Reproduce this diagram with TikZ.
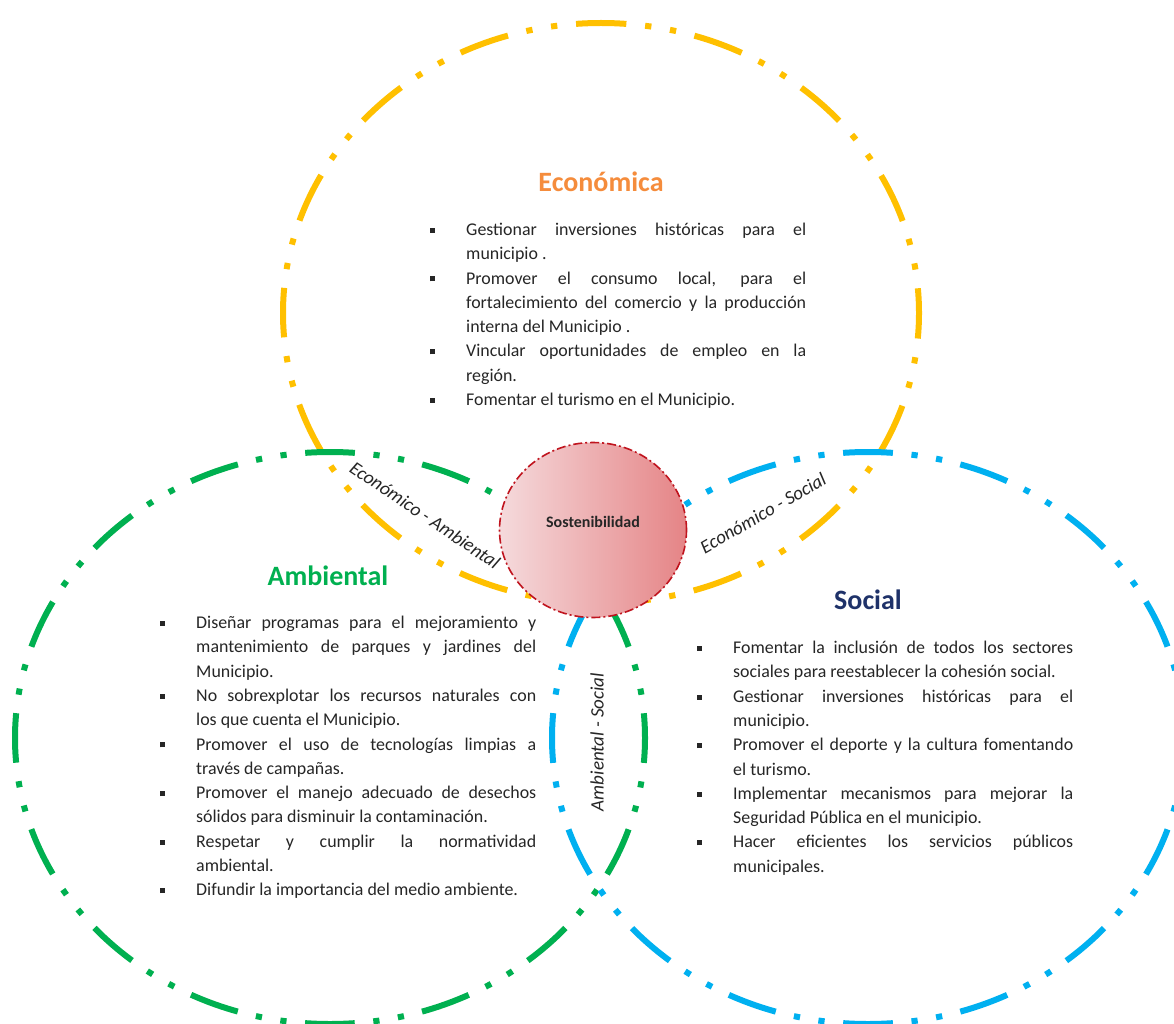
\documentclass[tikz,border=0pt]{standalone}
\usepackage{fontspec}
\setmainfont{Carlito}
\usetikzlibrary{shapes.geometric}
\definecolor{cyel}{RGB}{255,192,0}
\definecolor{cgrn}{RGB}{0,176,80}
\definecolor{cblu}{RGB}{0,176,240}
\definecolor{corg}{RGB}{245,140,60}
\definecolor{cnavy}{RGB}{31,50,105}
\definecolor{ctxt}{RGB}{38,38,38}
\definecolor{cred}{RGB}{192,20,30}
\definecolor{cpinkL}{RGB}{245,218,220}
\definecolor{cpinkR}{RGB}{229,132,134}
\newcommand\itm{\par\noindent\hangindent=36pt\hangafter=1\makebox[36pt][l]{\raisebox{2.6pt}{\rule{5pt}{5pt}}}\strut}
\newcommand\bodyset{\fontsize{17.9}{24.3}\selectfont\rightskip=0pt\leftskip=0pt\parfillskip=0pt plus 1fil\spaceskip=\fontdimen2\font plus 3\fontdimen2\font minus 0.45\fontdimen2\font\xspaceskip=\spaceskip\tolerance=10000\hyphenpenalty=10000\exhyphenpenalty=10000\parindent=0pt}
\tikzset{
  listbox/.style={anchor=north west, inner sep=0pt, text width=376pt, align=justify, text=ctxt, font=\fontsize{17.9}{24.3}\selectfont},
  ttl/.style={anchor=base, inner sep=0pt, font=\fontsize{28}{34}\selectfont\bfseries},
  sidelbl/.style={inner sep=0pt, text=ctxt, font=\fontsize{19}{23}\selectfont\itshape},
  yelline/.style={draw=cyel, line width=6pt, dash pattern=on 50.32pt off 18.87pt on 6.29pt off 18.87pt on 6.29pt off 18.87pt, dash phase=25.16pt},
  grnline/.style={draw=cgrn, line width=6pt, dash pattern=on 49.72pt off 18.65pt on 6.215pt off 18.65pt on 6.215pt off 18.65pt, dash phase=24.86pt},
  bluline/.style={draw=cblu, line width=6pt, dash pattern=on 49.8pt off 18.68pt on 6.225pt off 18.68pt on 6.225pt off 18.68pt, dash phase=24.9pt}
}
\begin{document}
\begin{tikzpicture}[x=1pt,y=-1pt]
\fill[white] (0,0) rectangle (1174,1024);
\useasboundingbox (0,0) rectangle (1174,1024);
% ellipses (start at the leftmost point, clockwise on screen)
\draw[yelline] (283,313) arc[start angle=180, end angle=540, x radius=318, y radius=290];
\draw[grnline] (15,738) arc[start angle=180, end angle=540, x radius=315, y radius=286];
\draw[bluline] (552,738) arc[start angle=180, end angle=540, x radius=316, y radius=286];
% centre
\node (sost) [ellipse, minimum width=187pt, minimum height=175pt, inner sep=0pt,
  left color=cpinkL, right color=cpinkR, draw=cred, line width=1.6pt,
  dash pattern=on 9pt off 3pt on 2pt off 3pt] at (593,530) {};
\node (sosttxt) [inner sep=0pt, text=black!85, font=\fontsize{16}{19}\selectfont\bfseries] at (593,522) {Sostenibilidad};
% titles
\node (teco) [ttl, text=corg] at (601,192) {Económica};
\node (tamb) [ttl, text=cgrn] at (328,585) {Ambiental};
\node (tsoc) [ttl, text=cnavy] at (868,609) {Social};
% lists
\node (leco) [listbox] at (430,211) {\bodyset
\itm Gestionar inversiones históricas para el\linebreak municipio .
\itm Promover el consumo local, para el\linebreak fortalecimiento del comercio y la producción\linebreak interna del Municipio .
\itm Vincular oportunidades de empleo en la\linebreak región.
\itm Fomentar el turismo en el Municipio.\par};
\node (lamb) [listbox] at (160,604) {\bodyset
\itm Diseñar programas para el mejoramiento y\linebreak mantenimiento de parques y jardines del\linebreak Municipio.
\itm No sobrexplotar los recursos naturales con\linebreak los que cuenta el Municipio.
\itm Promover el uso de tecnologías limpias a\linebreak través de campañas.
\itm Promover el manejo adecuado de desechos\linebreak sólidos para disminuir la contaminación.
\itm Respetar y cumplir la normatividad\linebreak ambiental.
\itm Difundir la importancia del medio ambiente.\par};
\node (lsoc) [listbox] at (697,629) {\bodyset
\itm Fomentar la inclusión de todos los sectores\linebreak sociales para reestablecer la cohesión social.
\itm Gestionar inversiones históricas para el\linebreak municipio.
\itm Promover el deporte y la cultura fomentando\linebreak el turismo.
\itm Implementar mecanismos para mejorar la\linebreak Seguridad Pública en el municipio.
\itm Hacer eficientes los servicios públicos\linebreak municipales.\par};
% intersection labels
\node (lea) [sidelbl, rotate=-34] at (425,515) {Económico - Ambiental};
\node (les) [sidelbl, rotate=30] at (763,513) {Económico - Social};
\node (las) [sidelbl, rotate=90] at (597,742) {Ambiental - Social};
\end{tikzpicture}
\end{document}
